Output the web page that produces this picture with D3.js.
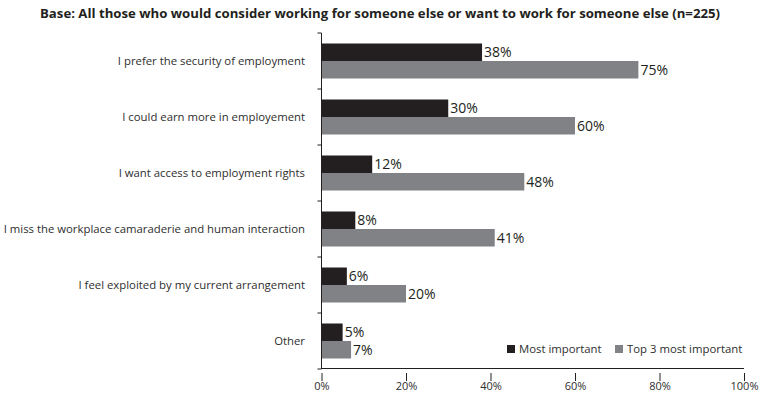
<!DOCTYPE html>
<html>
<head>
<meta charset="utf-8">
<script src="https://cdn.jsdelivr.net/npm/d3@7"></script>
<style>
  html, body { margin: 0; padding: 0; background: #fff; }
  svg { display: block; font-family: "Open Sans", sans-serif; }
</style>
</head>
<body>
<svg id="chart" width="760" height="394"></svg>
<script>
// Reasons for considering working for someone else
const categories = [
  "I prefer the security of employment",
  "I could earn more in employement",
  "I want access to employment rights",
  "I miss the workplace camaraderie and human interaction",
  "I feel exploited by my current arrangement",
  "Other"
];
const mostImportant = [38, 30, 12, 8, 6, 5];
const top3Important = [75, 60, 48, 41, 20, 7];
const seriesNames = ["Most important", "Top 3 most important"];
const seriesColors = ["#231f20", "#808285"];
const xTicks = [0, 20, 40, 60, 80, 100];
const titleText = "Base: All those who would consider working for someone else or want to work for someone else (n=225)";

const svg = d3.select("#chart");
const x0 = 321.5, x1 = 744, yTop = 33, yBottom = 369;

const x = d3.scaleLinear().domain([0, 100]).range([x0, x1]);
const y = d3.scaleBand().domain(categories).range([yTop, yBottom]);
const ySub = d3.scaleBand().domain(seriesNames).range([0, y.bandwidth()]).paddingOuter(0.6);

// Title
svg.append("text")
  .attr("x", 380).attr("y", 18)
  .attr("text-anchor", "middle")
  .attr("font-size", 13.2).attr("font-weight", 700)
  .attr("fill", "#231f20")
  .text(titleText);

// Bars
const rows = categories.map((c, i) => ({ cat: c, vals: [mostImportant[i], top3Important[i]] }));
const g = svg.append("g");
const row = g.selectAll("g.row").data(rows).join("g")
  .attr("class", "row")
  .attr("transform", d => `translate(0,${y(d.cat)})`);

row.selectAll("rect").data(d => d.vals.map((v, k) => ({ v, k })))
  .join("rect")
  .attr("x", x(0))
  .attr("y", d => ySub(seriesNames[d.k]))
  .attr("width", d => x(d.v) - x(0))
  .attr("height", ySub.bandwidth())
  .attr("fill", d => seriesColors[d.k]);

row.selectAll("text.val").data(d => d.vals.map((v, k) => ({ v, k })))
  .join("text")
  .attr("class", "val")
  .attr("x", d => x(d.v) + 2)
  .attr("y", d => ySub(seriesNames[d.k]) + ySub.bandwidth() / 2)
  .attr("dy", "0.36em")
  .attr("font-size", 14)
  .attr("fill", "#231f20")
  .text(d => d.v + "%");

// Category labels
svg.append("g").selectAll("text").data(categories).join("text")
  .attr("x", 305)
  .attr("y", d => y(d) + y.bandwidth() / 2)
  .attr("dy", "0.36em")
  .attr("text-anchor", "end")
  .attr("font-size", 11.35)
  .attr("fill", "#2e2e2e")
  .text(d => d);

// Vertical axis with ticks at band boundaries
const yAxis = svg.append("g").attr("stroke", "#231f20").attr("stroke-width", 1);
yAxis.append("line").attr("x1", x0).attr("x2", x0).attr("y1", yTop).attr("y2", yBottom);
const bounds = categories.map(c => y(c)).concat([yBottom]);
yAxis.selectAll("line.tick").data(bounds).join("line")
  .attr("class", "tick")
  .attr("x1", x0 - 4).attr("x2", x0)
  .attr("y1", d => d).attr("y2", d => d);

// Horizontal axis line
svg.append("line")
  .attr("x1", x0).attr("x2", x1)
  .attr("y1", yBottom - 0.5).attr("y2", yBottom - 0.5)
  .attr("stroke", "#231f20");

// Detached tick marks and labels below
const xAxis = svg.append("g")
  .attr("transform", `translate(0,${yBottom + 4})`)
  .call(d3.axisBottom(x).tickValues(xTicks).tickSize(8).tickPadding(3).tickFormat(d => d + "%"));
xAxis.select(".domain").remove();
xAxis.selectAll(".tick line").attr("stroke", "#231f20");
xAxis.selectAll(".tick text")
  .attr("font-family", "Open Sans, sans-serif")
  .attr("font-size", 11)
  .attr("y", 17)
  .attr("dy", 0)
  .attr("fill", "#2e2e2e");

// Legend
const legend = svg.append("g").attr("transform", "translate(507,349)");
const legendX = [0, 108];
seriesNames.forEach((name, k) => {
  const lg = legend.append("g").attr("transform", `translate(${legendX[k]},0)`);
  lg.append("rect").attr("x", 0).attr("y", -4).attr("width", 8).attr("height", 8).attr("fill", seriesColors[k]);
  lg.append("text").attr("x", 12).attr("y", 0).attr("dy", "0.36em")
    .attr("font-size", 11.35).attr("fill", "#2e2e2e").text(name);
});
</script>
</body>
</html>
